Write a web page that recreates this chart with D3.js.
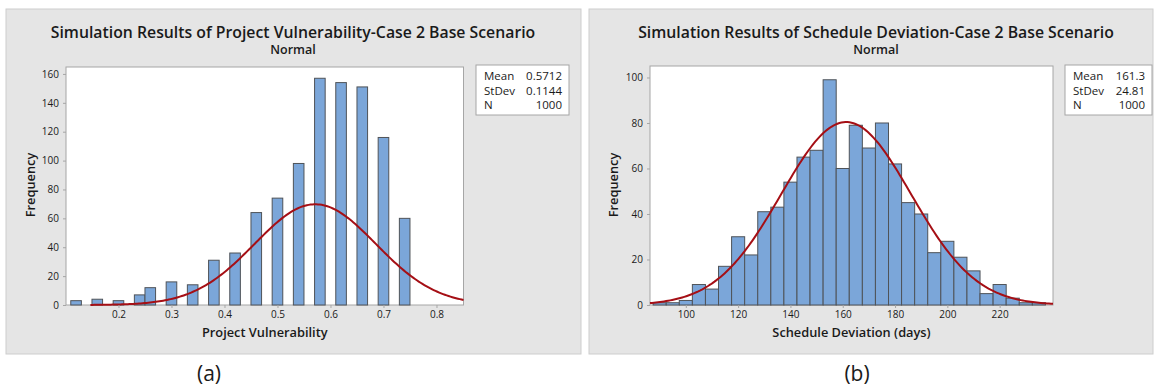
<!DOCTYPE html>
<html>
<head>
<meta charset="utf-8">
<script src="https://cdn.jsdelivr.net/npm/d3@7"></script>
<style>
  body { margin: 0; background: #fff; }
  svg text { font-family: "Open Sans", "Noto Sans", sans-serif; fill: #1a1a1a; }
</style>
</head>
<body>
<script>
// ---- data ----
var vulnBinCenters = [0.12, 0.16, 0.20, 0.24, 0.26, 0.30, 0.34, 0.38, 0.42, 0.46, 0.50, 0.54, 0.58, 0.62, 0.66, 0.70, 0.74];
var vulnCounts     = [3, 4, 3, 7, 12, 16, 14, 31, 36, 64, 74, 98, 157, 154, 151, 116, 60];
var vulnBinWidth = 0.02;
var vulnXTicks = [0.2, 0.3, 0.4, 0.5, 0.6, 0.7, 0.8];
var vulnYTicks = [0, 20, 40, 60, 80, 100, 120, 140, 160];
var vulnStats = { mean: 0.5712, sd: 0.1144, n: 1000 };
var vulnStatLabels = ["Mean", "StDev", "N"];
var vulnStatValues = ["0.5712", "0.1144", "1000"];

var schedBinCenters = [90, 95, 100, 105, 110, 115, 120, 125, 130, 135, 140, 145, 150, 155, 160,
                       165, 170, 175, 180, 185, 190, 195, 200, 205, 210, 215, 220, 225, 230, 235];
var schedCounts     = [1, 1, 2, 9, 7, 17, 30, 22, 41, 43, 54, 65, 68, 99, 60,
                       79, 69, 80, 62, 45, 40, 23, 28, 21, 15, 5, 9, 3, 1, 1];
var schedBinWidth = 5;
var schedXTicks = [100, 120, 140, 160, 180, 200, 220];
var schedYTicks = [0, 20, 40, 60, 80, 100];
var schedStats = { mean: 161.3, sd: 24.81, n: 1000 };
var schedStatLabels = ["Mean", "StDev", "N"];
var schedStatValues = ["161.3", "24.81", "1000"];

var svg = d3.select("body").append("svg")
    .attr("width", 1156)
    .attr("height", 388);

function normalPdf(x, m, s) {
  return Math.exp(-0.5 * Math.pow((x - m) / s, 2)) / (s * Math.sqrt(2 * Math.PI));
}

function drawPanel(cfg) {
  var g = svg.append("g");

  g.append("rect")
    .attr("x", cfg.panel[0]).attr("y", cfg.panel[1])
    .attr("width", cfg.panel[2]).attr("height", cfg.panel[3])
    .attr("fill", "#e5e5e5")
    .attr("stroke", "#cdcdcd");

  g.append("text")
    .attr("x", cfg.titleX).attr("y", 38)
    .attr("text-anchor", "middle")
    .attr("font-size", 15.8).attr("font-weight", 600)
    .text(cfg.title);
  g.append("text")
    .attr("x", cfg.titleX).attr("y", 54)
    .attr("text-anchor", "middle")
    .attr("font-size", 12.5).attr("font-weight", 600)
    .text("Normal");

  var x = d3.scaleLinear().domain(cfg.xDomain).range([cfg.plot[0], cfg.plot[1]]);
  var y = d3.scaleLinear().domain(cfg.yDomain).range([cfg.plot[3], cfg.plot[2]]);

  // plot area
  g.append("rect")
    .attr("x", cfg.plot[0]).attr("y", cfg.plot[2])
    .attr("width", cfg.plot[1] - cfg.plot[0]).attr("height", cfg.plot[3] - cfg.plot[2])
    .attr("fill", "#fff")
    .attr("stroke", "#a6a6a6");

  // bars
  g.selectAll(".bar")
    .data(cfg.centers.map(function(c, i) { return { c: c, v: cfg.counts[i] }; }))
    .enter().append("rect")
    .attr("class", "bar")
    .attr("x", function(d) { return x(d.c - cfg.binWidth / 2); })
    .attr("width", function(d) { return x(d.c + cfg.binWidth / 2) - x(d.c - cfg.binWidth / 2); })
    .attr("y", function(d) { return y(d.v); })
    .attr("height", function(d) { return y(0) - y(d.v); })
    .attr("fill", "#7ba6d9")
    .attr("stroke", "#4f5358")
    .attr("stroke-width", 1);

  // fitted normal curve
  var lo = cfg.curveFrom, hi = cfg.xDomain[1];
  var pts = d3.range(0, 201).map(function(i) {
    var xv = lo + (hi - lo) * i / 200;
    return [x(xv), y(cfg.stats.n * cfg.binWidth * normalPdf(xv, cfg.stats.mean, cfg.stats.sd))];
  });
  g.append("path")
    .attr("d", d3.line()(pts))
    .attr("fill", "none")
    .attr("stroke", "#a50f15")
    .attr("stroke-width", 2);

  // axes
  var xAxis = g.append("g")
    .attr("transform", "translate(0," + cfg.plot[3] + ")")
    .call(d3.axisBottom(x).tickValues(cfg.xTicks).tickSize(3).tickPadding(3)
      .tickFormat(cfg.xFormat));
  var yAxis = g.append("g")
    .attr("transform", "translate(" + cfg.plot[0] + ",0)")
    .call(d3.axisLeft(y).tickValues(cfg.yTicks).tickSize(3).tickPadding(4));
  [xAxis, yAxis].forEach(function(a) {
    a.select(".domain").remove();
    a.selectAll("line").attr("stroke", "#a6a6a6");
    a.selectAll("text").attr("font-size", 10).attr("fill", "#1a1a1a")
      .attr("font-family", "\"Open Sans\", sans-serif");
  });

  g.append("text")
    .attr("x", (cfg.plot[0] + cfg.plot[1]) / 2).attr("y", 337)
    .attr("text-anchor", "middle")
    .attr("font-size", 12.8).attr("font-weight", 600)
    .text(cfg.xTitle);
  g.append("text")
    .attr("transform", "translate(" + cfg.yTitleX + ",185) rotate(-90)")
    .attr("text-anchor", "middle")
    .attr("dy", "0.35em")
    .attr("font-size", 12.8).attr("font-weight", 600)
    .text("Frequency");

  // stats box
  var b = cfg.box;
  g.append("rect")
    .attr("x", b[0]).attr("y", b[1]).attr("width", b[2]).attr("height", b[3])
    .attr("fill", "#fff").attr("stroke", "#a6a6a6");
  cfg.statLabels.forEach(function(lbl, i) {
    g.append("text")
      .attr("x", b[0] + 8).attr("y", b[1] + 15 + i * 14.5)
      .attr("font-size", 11.5)
      .text(lbl);
    g.append("text")
      .attr("x", b[0] + b[2] - 7).attr("y", b[1] + 15 + i * 14.5)
      .attr("text-anchor", "end")
      .attr("font-size", 11.5)
      .text(cfg.statValues[i]);
  });

  svg.append("text")
    .attr("x", cfg.captionX).attr("y", 381)
    .attr("text-anchor", "middle")
    .attr("font-family", "\"Liberation Serif\", serif")
    .attr("font-size", 21)
    .text(cfg.caption);
}

drawPanel({
  panel: [6, 9, 575, 345],
  plot: [66, 463.5, 67, 305],
  titleX: 293,
  title: "Simulation Results of Project Vulnerability-Case 2 Base Scenario",
  xTitle: "Project Vulnerability",
  yTitleX: 31,
  xDomain: [0.101, 0.851],
  yDomain: [0, 164.8],
  xTicks: vulnXTicks,
  yTicks: vulnYTicks,
  xFormat: d3.format(".1f"),
  centers: vulnBinCenters,
  counts: vulnCounts,
  binWidth: vulnBinWidth,
  stats: vulnStats,
  curveFrom: 0.147,
  statLabels: vulnStatLabels,
  statValues: vulnStatValues,
  box: [476, 65, 93, 50],
  captionX: 209,
  caption: "(a)"
});

drawPanel({
  panel: [589, 9, 564, 345],
  plot: [650, 1053, 66, 305],
  titleX: 876,
  title: "Simulation Results of Schedule Deviation-Case 2 Base Scenario",
  xTitle: "Schedule Deviation (days)",
  yTitleX: 614,
  xDomain: [86.3, 240.4],
  yDomain: [0, 105.05],
  xTicks: schedXTicks,
  yTicks: schedYTicks,
  xFormat: d3.format("d"),
  centers: schedBinCenters,
  counts: schedCounts,
  binWidth: schedBinWidth,
  stats: schedStats,
  curveFrom: 86.3,
  statLabels: schedStatLabels,
  statValues: schedStatValues,
  box: [1065, 65, 87, 50],
  captionX: 857,
  caption: "(b)"
});
</script>
</body>
</html>
